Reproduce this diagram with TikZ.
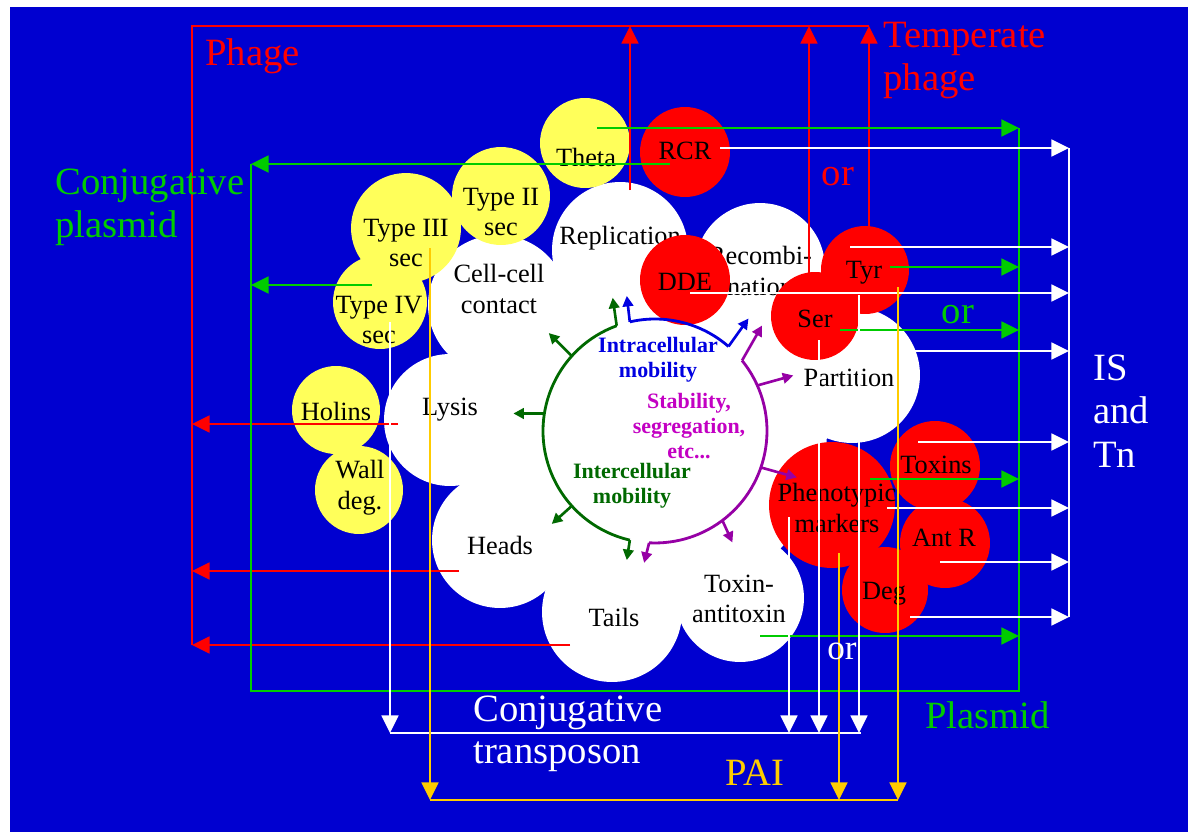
\documentclass[tikz,border=0pt]{standalone}
\usepackage{fontspec}
\setmainfont{Liberation Serif}
\usetikzlibrary{arrows.meta}
\definecolor{bgBlue}{RGB}{0,0,208}
\definecolor{phRed}{RGB}{255,0,0}
\definecolor{plGreen}{RGB}{0,204,0}
\definecolor{paiGold}{RGB}{255,204,0}
\definecolor{bubYel}{RGB}{255,255,90}
\definecolor{ringGreen}{RGB}{0,105,0}
\definecolor{ringBlue}{RGB}{0,0,225}
\definecolor{ringPurp}{RGB}{150,0,165}
\definecolor{txtPurp}{RGB}{195,0,195}

\begin{document}
\begin{tikzpicture}[x=0.02cm, y=-0.02cm,
  bub/.style={circle, inner sep=0pt, outer sep=0pt, minimum size=#1*0.04cm},
  wb/.style={bub=#1, fill=white},
  yb/.style={bub=#1, fill=bubYel},
  rb/.style={bub=#1, fill=phRed},
  btxt/.style={font=\fontsize{15}{17.5}\selectfont, align=center, inner sep=0pt},
  rtxt/.style={font=\bfseries\fontsize{12.5}{14}\selectfont, align=center, inner sep=0pt},
  bigl/.style={font=\fontsize{22}{24}\selectfont, inner sep=0pt, anchor=base west},
  tip/.style={-{Triangle[length=10pt,width=9.5pt]}},
  wire/.style={line width=1.6pt},
  phg/.style={wire, draw=phRed},
  pls/.style={wire, draw=plGreen},
  ist/.style={wire, draw=white},
  pai/.style={wire, draw=paiGold},
  rarr/.style={line width=1.5pt, -{Triangle[length=6pt,width=6pt]}}
]

% background
\useasboundingbox (0,0) rectangle (1188,832);
\fill[white] (0,0) rectangle (1188,832);
\fill[bgBlue] (10,7) rectangle (1188,832);

% white functions
\node[wb=172] (core)   at (655,431) {};
\node[wb=68]  (repl)   at (620,250) {};
\node[wb=65]  (recomb) at (760,268) {};
\node[wb=70]  (cellc)  at (498,305) {};
\node[wb=66]  (lysis)  at (450,420) {};
\node[wb=68]  (heads)  at (500,540) {};
\node[wb=70]  (tails)  at (612,612) {};
\node[wb=64]  (toxat)  at (740,598) {};
\node[wb=68]  (part)   at (852,375) {};

\node[btxt] (replT)   at (620,238) {Replication};
\node[btxt] (recombT) at (760,271) {Recombi-\\nation};
\node[btxt] (cellcT)  at (499,289) {Cell-cell\\contact};
\node[btxt] (lysisT)  at (450,410) {Lysis};
\node[btxt] (headsT)  at (500,545) {Heads};
\node[btxt] (tailsT)  at (614,617) {Tails};
\node[btxt] (toxatT)  at (739,599) {Toxin-\\antitoxin};
\node[btxt] (partT)   at (849,378) {Partition};

% yellow modules
\node[yb=45] (theta)   at (585,143) {};
\node[yb=49] (typeII)  at (501,196) {};
\node[yb=47] (typeIV)  at (380,302) {};
\node[yb=55] (typeIII) at (406,228) {};
\node[yb=44] (holins)  at (336,410) {};
\node[yb=44] (wall)    at (359,490) {};

\node[btxt] (thetaT)   at (586,157) {Theta};
\node[btxt] (typeIIT)  at (501,212) {Type II\\sec};
\node[btxt] (typeIIIT) at (406,243) {Type III\\sec};
\node[btxt] (typeIVT)  at (379,320) {Type IV\\sec};
\node[btxt] (holinsT)  at (336,411) {Holins};
\node[btxt] (wallT)    at (360,488) {Wall\\deg.};

% red modules
\node[rb=45] (rcr)    at (685,152) {};
\node[rb=45] (dde)    at (685,280) {};
\node[rb=44] (tyr)    at (865,270) {};
\node[rb=44] (ser)    at (815,316) {};
\node[rb=63] (pheno)  at (832,505) {};
\node[rb=45] (toxins) at (935,466) {};
\node[rb=45] (antr)   at (945,543) {};
\node[rb=43] (deg)    at (885,590) {};

\node[btxt] (rcrT)    at (685,151) {RCR};
\node[btxt] (ddeT)    at (685,282) {DDE};
\node[btxt] (tyrT)    at (864,273) {Tyr};
\node[btxt] (serT)    at (815,319) {Ser};
\node[btxt] (phenoT)  at (837,508) {Phenotypic\\markers};
\node[btxt] (toxinsT) at (936,465) {Toxins};
\node[btxt] (antrT)   at (944,538) {Ant R};
\node[btxt] (degT)    at (884,594) {Deg};

% central ring
\node[circle, minimum size=224*0.02cm, inner sep=0pt, outer sep=0pt] (ring) at (655,431) {};
\draw[ringGreen, line width=1.6pt] (ring.110) arc[start angle=110, end angle=257, radius=2.24cm];
\draw[ringBlue, line width=1.6pt] (ring.103) arc[start angle=103, end angle=49, radius=2.24cm];
\draw[ringPurp, line width=1.6pt] (ring.39) arc[start angle=39, end angle=-93, radius=2.24cm];

\draw[ringGreen, rarr] (ring.110) -- ++(-4,-28);
\draw[ringGreen, rarr] (ring.138) -- ++(-23,-23);
\draw[ringGreen, rarr] (ring.171) -- ++(-31,0);
\draw[ringGreen, rarr] (ring.222) -- ++(-20,18);
\draw[ringGreen, rarr] (ring.257) -- ++(-3,20);
\draw[ringBlue, rarr] (ring.103) -- ++(-3,-26);
\draw[ringBlue, rarr] (ring.49) -- ++(20,-28);
\draw[ringPurp, rarr] (ring.39) -- ++(20,-35);
\draw[ringPurp, rarr] (ring.24) -- ++(36,-10);
\draw[ringPurp, rarr] (ring.341) -- ++(36,10);
\draw[ringPurp, rarr] (ring.307) -- ++(10,22);
\draw[ringPurp, rarr] (ring.267) -- ++(-5,20);

\node[rtxt, text=ringBlue]  (intraT) at (658,360) {Intracellular\\mobility};
\node[rtxt, text=txtPurp]   (stabT)  at (689,426) {Stability,\\segregation,\\etc...};
\node[rtxt, text=ringGreen] (interT) at (632,486) {Intercellular\\mobility};

% line ends
\foreach \n/\x/\y in {phNW/192/26, phNE/869/26, phSW/192/645,
    phA/630/190, phB/809/273, phC/869/232,
    lyA/398/424, hdA/459/571, tlA/570/645,
    plNE/1019/128, plSE/1019/691, plSW/251/691, plW/251/164,
    thA/597/128, rcA/670/164, t4A/372/285,
    tyA/890/267, seA/840/330, txA/870/479, taA/760/636,
    isN/1069/148, isS/1069/617,
    rcB/720/148, tyB/850/247, ddB/690/293, seB/912/351,
    txB/918/442, pmB/887/508, arB/940/562, dgB/910/617,
    ctW/390/733, ctE/861/733,
    t4B/390/322, pmC/789/517, seC/819/340, ddC/859/295,
    paW/430/800, paE/898/800,
    t3A/430/248, pmD/839/553, tyD/898/287}
  \coordinate (\n) at (\x,\y);

% phage
\draw[phg] (phSW) -- (phNW) -- (phNE);
\foreach \s in {phA,phB,phC}
  \draw[phg,tip] (\s) -- (\s |- phNW);
\foreach \s in {lyA,hdA,tlA}
  \draw[phg,tip] (\s) -- (\s -| phNW);

% plasmid
\draw[pls,tip] (thA) -- (plNE);
\draw[pls] (plNE) -- (plSE) -- (plSW) -- (plW);
\draw[pls,tip] (rcA) -- (plW);
\draw[pls,tip] (t4A) -- (t4A -| plW);
\foreach \s in {tyA,seA,txA,taA}
  \draw[pls,tip] (\s) -- (\s -| plNE);

% IS and Tn
\draw[ist] (isN) -- (isS);
\foreach \s in {rcB,tyB,ddB,seB,txB,pmB,arB,dgB}
  \draw[ist,tip] (\s) -- (\s -| isN);

% conjugative transposon
\draw[ist] (ctW) -- (ctE);
\foreach \s in {t4B,pmC,seC,ddC}
  \draw[ist,tip] (\s) -- (\s |- ctW);

% PAI
\draw[pai] (paW) -- (paE);
\foreach \s in {t3A,pmD,tyD}
  \draw[pai,tip] (\s) -- (\s |- paW);

% labels
\node[bigl, text=phRed] (phageL) at (205,65) {Phage};
\node[bigl, text=phRed] (tempL1) at (883,47) {Temperate};
\node[bigl, text=phRed] (tempL2) at (883,90) {phage};
\node[bigl, text=phRed, anchor=base] (orR) at (838,185) {or};
\node[bigl, text=plGreen] (cplL1) at (55,194) {Conjugative};
\node[bigl, text=plGreen] (cplL2) at (55,237) {plasmid};
\node[bigl, text=plGreen, anchor=base] (orG) at (958,323) {or};
\node[bigl, text=plGreen] (plasL) at (925,728) {Plasmid};
\node[bigl, text=white] (isL1) at (1093,380) {IS};
\node[bigl, text=white] (isL2) at (1093,423) {and};
\node[bigl, text=white] (isL3) at (1093,467) {Tn};
\node[bigl, text=white] (ctL1) at (473,721) {Conjugative};
\node[bigl, text=white] (ctL2) at (473,763) {transposon};
\node[bigl, text=white, anchor=base, font=\fontsize{20}{22}\selectfont] (orW) at (842,659) {or};
\node[bigl, text=paiGold] (paiL) at (725,785) {PAI};

\end{tikzpicture}
\end{document}
